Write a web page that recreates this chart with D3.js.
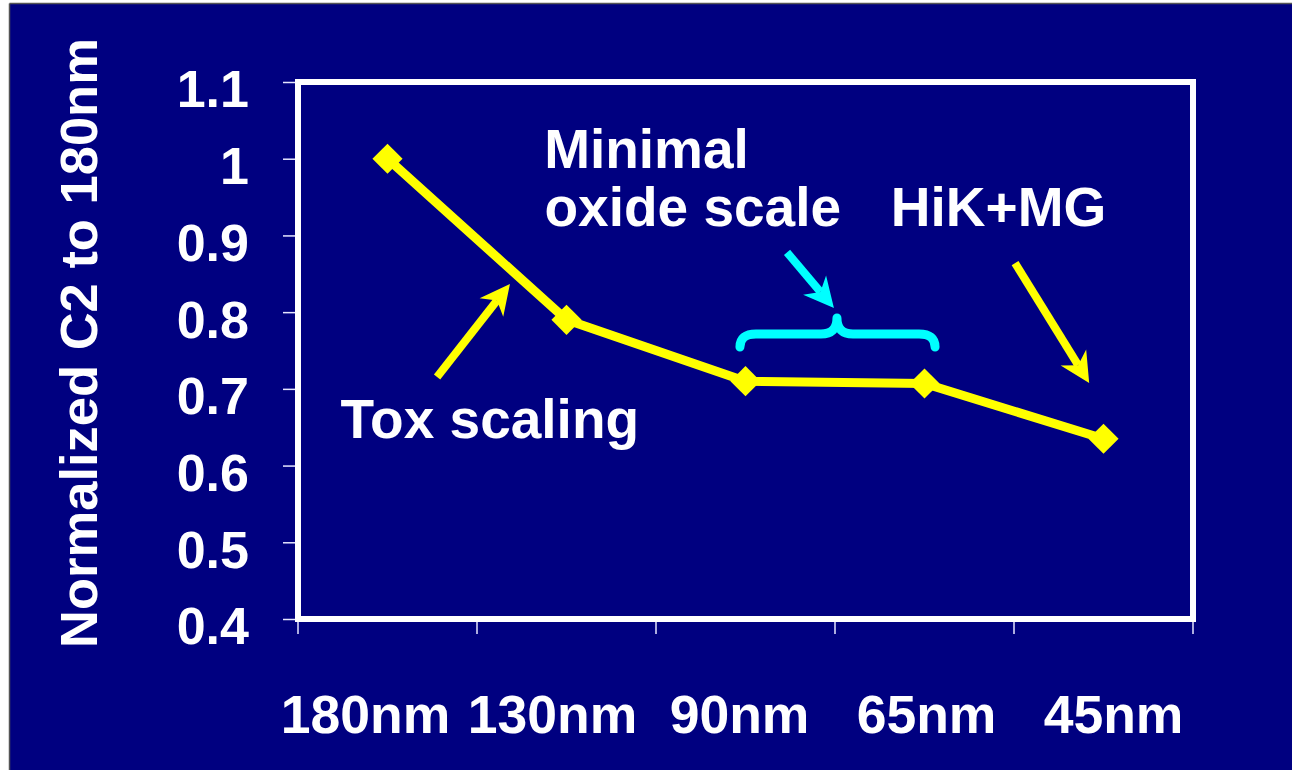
<!DOCTYPE html>
<html>
<head>
<meta charset="utf-8">
<script src="https://cdn.jsdelivr.net/npm/d3@7/dist/d3.min.js"></script>
<style>
  html, body { margin: 0; padding: 0; background: #ffffff; }
  svg { display: block; }
  text { font-family: "Liberation Sans", Arial, sans-serif; font-weight: bold; fill: #ffffff; }
</style>
</head>
<body>
<svg id="chart" width="1292" height="770"></svg>
<script>
// Technology nodes and normalized C2 values
const categories = ["180nm", "130nm", "90nm", "65nm", "45nm"];
const c2Values = [1.0, 0.79, 0.71, 0.707, 0.635];
const yTickValues = [0.4, 0.5, 0.6, 0.7, 0.8, 0.9, 1.0, 1.1];
const yTickLabels = ["0.4", "0.5", "0.6", "0.7", "0.8", "0.9", "1", "1.1"];
const yTitle = "Normalized C2 to 180nm";

// Annotations, placed in data space: i = category index (fractional), v = value
const noteTexts = [
  { text: "Minimal", i: 0.875, v: 0.988 },
  { text: "oxide scale", i: 0.877, v: 0.9123 },
  { text: "HiK+MG", i: 2.812, v: 0.9123 },
  { text: "Tox scaling", i: -0.262, v: 0.636 }
];
const noteArrows = [
  { color: "#ffff00", from: { i: 0.277, v: 0.7155 }, to: { i: 0.684, v: 0.8367 } },
  { color: "#ffff00", from: { i: 3.506, v: 0.864 }, to: { i: 3.92, v: 0.7076 } },
  { color: "#00ffff", from: { i: 2.232, v: 0.878 }, to: { i: 2.494, v: 0.8054 } }
];
const brace = { left: 1.969, right: 3.059, tip: 2.511, endV: 0.7546, barV: 0.7715, tipV: 0.7924 };

const W = 1292, H = 770;
const plot = { left: 298, right: 1193, top: 82, bottom: 619 };
const navy = "#000080";

const svg = d3.select("#chart");

// Slide background with a thin dark edge on top and left
svg.append("rect").attr("x", 10).attr("y", 4).attr("width", W - 10).attr("height", H - 4).attr("fill", navy);
svg.append("line").attr("x1", 9.5).attr("x2", 9.5).attr("y1", 3.5).attr("y2", H).attr("stroke", "#555").attr("stroke-width", 1.5);
svg.append("line").attr("x1", 9.5).attr("x2", W).attr("y1", 3.5).attr("y2", 3.5).attr("stroke", "#555").attr("stroke-width", 1.5);

// Scales
const x = d3.scaleBand().domain(categories).range([plot.left, plot.right]).padding(0);
const y = d3.scaleLinear().domain([0.4, 1.1]).range([plot.bottom, plot.top]);
const idx = d3.scaleLinear().domain([0, 1]).range([x(categories[0]) + x.bandwidth() / 2, x(categories[1]) + x.bandwidth() / 2]);
const labelX = d3.scaleBand().domain(categories).range([plot.left - 26, plot.right + 14]);

// Y axis ticks and labels
const yAxis = d3.axisLeft(y)
  .tickValues(yTickValues)
  .tickFormat((d, k) => yTickLabels[k])
  .tickSize(12)
  .tickPadding(34);
const gy = svg.append("g").attr("transform", `translate(${plot.left - 3},0)`).call(yAxis);
gy.select(".domain").remove();
gy.selectAll(".tick line").attr("stroke", "#e6e6ff").attr("stroke-width", 1.5);
gy.selectAll(".tick text")
  .attr("dy", "0.48em")
  .style("font-size", "52px")
  .style("font-family", "'Liberation Sans', Arial, sans-serif")
  .style("font-weight", "bold")
  .attr("fill", "#ffffff");

// X axis tick marks at category boundaries
const boundaries = categories.map(c => x(c)).concat([x.range()[1]]);
svg.append("g").selectAll("line").data(boundaries).join("line")
  .attr("x1", d => d).attr("x2", d => d)
  .attr("y1", plot.bottom + 3).attr("y2", plot.bottom + 15)
  .attr("stroke", "#e6e6ff").attr("stroke-width", 1.5);

// X category labels
const xAxis = d3.axisBottom(labelX).tickSize(0).tickPadding(0);
const gx = svg.append("g").attr("transform", "translate(0,733)").call(xAxis);
gx.select(".domain").remove();
gx.selectAll(".tick text")
  .attr("y", 0).attr("dy", null)
  .style("font-size", "53.5px")
  .style("font-family", "'Liberation Sans', Arial, sans-serif")
  .style("font-weight", "bold")
  .attr("fill", "#ffffff");

// Y axis title
svg.append("text")
  .attr("transform", `translate(97,${(40 + 646) / 2}) rotate(-90)`)
  .attr("text-anchor", "middle")
  .style("font-size", "52.5px")
  .text(yTitle);

// Plot frame
svg.append("rect")
  .attr("x", plot.left).attr("y", plot.top)
  .attr("width", plot.right - plot.left).attr("height", plot.bottom - plot.top)
  .attr("fill", "none").attr("stroke", "#ffffff").attr("stroke-width", 6);

// Data line
const pts = categories.map((c, k) => ({ c, v: c2Values[k] }));
const line = d3.line().x(d => x(d.c) + x.bandwidth() / 2).y(d => y(d.v));
svg.append("path").datum(pts)
  .attr("d", line)
  .attr("fill", "none").attr("stroke", "#ffff00").attr("stroke-width", 9)
  .attr("stroke-linejoin", "miter");

// Diamond markers
const diamond = d3.symbol().type(d3.symbolDiamond2).size(580);
svg.append("g").selectAll("path").data(pts).join("path")
  .attr("d", diamond)
  .attr("transform", d => `translate(${x(d.c) + x.bandwidth() / 2},${y(d.v)})`)
  .attr("fill", "#ffff00");

// Annotation arrows
function arrowHead(sx, sy, tx, ty) {
  const dx = tx - sx, dy = ty - sy, len = Math.hypot(dx, dy);
  const ux = dx / len, uy = dy / len, px = -uy, py = ux;
  const h = 30, w = 15, notch = 9;
  const bx = tx - h * ux, by = ty - h * uy;
  return {
    head: `M${tx},${ty} L${bx + w * px},${by + w * py} L${tx - (h - notch) * ux},${ty - (h - notch) * uy} L${bx - w * px},${by - w * py} Z`,
    shaftEnd: [tx - (h - notch) * ux, ty - (h - notch) * uy]
  };
}
const ga = svg.append("g");
noteArrows.forEach(a => {
  const sx = idx(a.from.i), sy = y(a.from.v), tx = idx(a.to.i), ty = y(a.to.v);
  const ah = arrowHead(sx, sy, tx, ty);
  ga.append("line")
    .attr("x1", sx).attr("y1", sy).attr("x2", ah.shaftEnd[0]).attr("y2", ah.shaftEnd[1])
    .attr("stroke", a.color).attr("stroke-width", 8);
  ga.append("path").attr("d", ah.head).attr("fill", a.color);
});

// Curly brace over the flat oxide segment
{
  const xl = idx(brace.left), xr = idx(brace.right), xt = idx(brace.tip);
  const ye = y(brace.endV), yh = y(brace.barV), yt = y(brace.tipV);
  const r = 16;
  const d = `M${xl},${ye} Q${xl},${yh} ${xl + r},${yh} L${xt - r},${yh} Q${xt},${yh} ${xt},${yt}` +
            ` Q${xt},${yh} ${xt + r},${yh} L${xr - r},${yh} Q${xr},${yh} ${xr},${ye}`;
  svg.append("path").attr("d", d)
    .attr("fill", "none").attr("stroke", "#00ffff").attr("stroke-width", 9)
    .attr("stroke-linecap", "round").attr("stroke-linejoin", "round");
}

// Annotation texts
svg.append("g").selectAll("text").data(noteTexts).join("text")
  .attr("x", d => idx(d.i)).attr("y", d => y(d.v))
  .style("font-size", "55px")
  .text(d => d.text);
</script>
</body>
</html>
